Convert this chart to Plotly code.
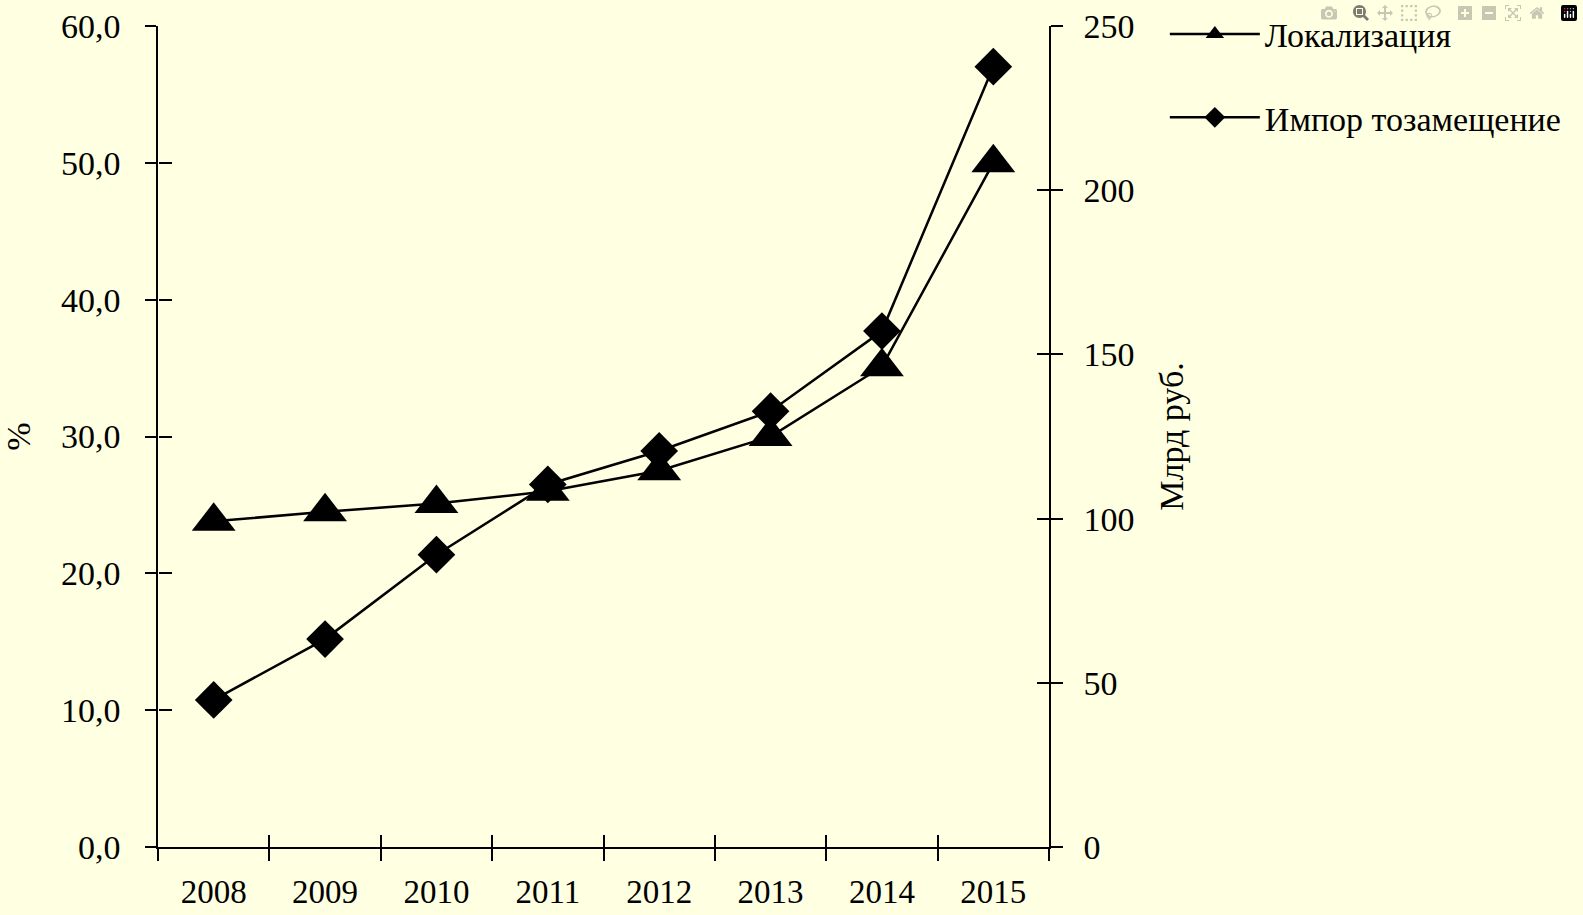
import plotly.graph_objects as go

years = ["2008", "2009", "2010", "2011", "2012", "2013", "2014", "2015"]
localization = [23.8, 24.5, 25.1, 26.0, 27.5, 30.0, 35.1, 50.0]
import_subst = [44.8, 63.3, 89.0, 110.4, 120.6, 132.7, 157.1, 237.6]
left_ticks = [0, 10, 20, 30, 40, 50, 60]
right_ticks = [0, 50, 100, 150, 200, 250]

BG = "#FFFFE1"
FONT = "Liberation Serif"
AX = "#000000"

fig = go.Figure()
fig.add_trace(go.Scatter(
    x=years, y=localization, name="Локализация", mode="lines+markers",
    line=dict(color="black", width=2.5),
    marker=dict(symbol="triangle-up", size=38, color="black"),
    xaxis="x", yaxis="y", legendgroup="a"))
fig.add_trace(go.Scatter(
    x=years, y=import_subst, name="Импор тозамещение", mode="lines+markers",
    line=dict(color="black", width=2.5),
    marker=dict(symbol="diamond", size=29, color="black"),
    xaxis="x", yaxis="y2", legendgroup="b"))
# invisible helpers so the inside-tick overlay axes are drawn
fig.add_trace(go.Scatter(x=years, y=localization, mode="markers", marker=dict(size=1, opacity=0),
                         showlegend=False, hoverinfo="skip", xaxis="x2", yaxis="y3"))
fig.add_trace(go.Scatter(x=years, y=import_subst, mode="markers", marker=dict(size=1, opacity=0),
                         showlegend=False, hoverinfo="skip", xaxis="x2", yaxis="y4"))

tick_font = dict(family=FONT, size=34, color="black")

fig.update_layout(
    width=1583, height=915,
    paper_bgcolor=BG, plot_bgcolor=BG,
    separators=", ",
    margin=dict(l=158, r=534, t=26, b=68, autoexpand=False),
    font=dict(family=FONT, size=34, color="black"),
    showlegend=True,
    legend=dict(x=1.13, y=1.025, xanchor="left", yanchor="top",
                bgcolor="rgba(0,0,0,0)", font=dict(family=FONT, size=34, color="black"),
                tracegroupgap=36, itemwidth=90),
    xaxis=dict(type="category", range=[-0.5, 7.5], tickson="boundaries",
               showline=True, linecolor=AX, linewidth=1.5, showgrid=False, zeroline=False,
               ticks="outside", ticklen=12, tickwidth=1.5, tickcolor=AX,
               tickfont=dict(family=FONT, size=33, color="black"),
               ticklabelstandoff=15, anchor="y"),
    xaxis2=dict(type="category", range=[-0.5, 7.5], tickson="boundaries", overlaying="x",
                anchor="free", position=0,
                showline=False, showgrid=False, zeroline=False, ticks="inside", ticklen=12,
                tickwidth=1.5, tickcolor=AX, showticklabels=False, side="bottom"),
    yaxis=dict(range=[0, 60], tickvals=left_ticks, tickformat=".1f",
               showline=True, linecolor=AX, linewidth=1.5, showgrid=False, zeroline=False,
               ticks="outside", ticklen=11, tickwidth=1.5, tickcolor=AX,
               tickfont=tick_font, ticklabelstandoff=18,
               title=dict(text="%", font=dict(family=FONT, size=34), standoff=20)),
    yaxis2=dict(range=[0, 250], tickvals=right_ticks, overlaying="y", side="right", anchor="x",
                showline=True, linecolor=AX, linewidth=1.5, showgrid=False, zeroline=False,
                ticks="outside", ticklen=12, tickwidth=1.5, tickcolor=AX,
                tickfont=tick_font, ticklabelstandoff=14,
                title=dict(text="Млрд руб.", font=dict(family=FONT, size=34), standoff=26)),
    yaxis3=dict(range=[0, 60], overlaying="y", side="left", anchor="free", position=0,
                showline=False, showgrid=False, zeroline=False, ticks="inside", ticklen=13,
                tickwidth=1.5, tickcolor=AX, tickvals=left_ticks, showticklabels=False),
    yaxis4=dict(range=[0, 250], overlaying="y", side="right", anchor="free", position=1,
                showline=False, showgrid=False, zeroline=False, ticks="inside", ticklen=12,
                tickwidth=1.5, tickcolor=AX, tickvals=right_ticks, showticklabels=False),
)

fig.write_html("out.html", post_script="document.body.style.margin='0';")
